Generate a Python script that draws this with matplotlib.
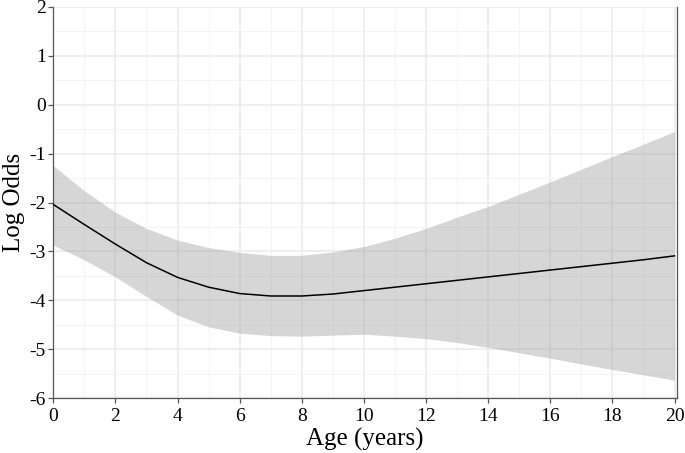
import matplotlib
matplotlib.use("Agg")
import matplotlib.pyplot as plt
import numpy as np

age = [0, 1, 2, 3, 4, 5, 6, 7, 8, 9, 10, 11, 12, 13, 14, 15, 16, 17, 18, 19, 20]
fit = [-2.04, -2.45, -2.85, -3.23, -3.53, -3.73, -3.86, -3.91, -3.91, -3.87, -3.80,
       -3.73, -3.66, -3.59, -3.52, -3.45, -3.38, -3.31, -3.24, -3.17, -3.09]
upper = [-1.25, -1.76, -2.20, -2.53, -2.77, -2.92, -3.02, -3.08, -3.08, -3.01, -2.90,
         -2.73, -2.53, -2.30, -2.08, -1.83, -1.58, -1.32, -1.06, -0.81, -0.55]
lower = [-2.87, -3.17, -3.52, -3.92, -4.30, -4.54, -4.67, -4.72, -4.73, -4.71, -4.69,
         -4.73, -4.78, -4.86, -4.96, -5.07, -5.18, -5.30, -5.41, -5.52, -5.63]

xticks = [0, 2, 4, 6, 8, 10, 12, 14, 16, 18, 20]
yticks = [-6, -5, -4, -3, -2, -1, 0, 1, 2]

plt.rcParams['font.family'] = ['Liberation Serif', 'DejaVu Serif']

fig = plt.figure(figsize=(6.85, 4.53), dpi=100)
ax = fig.add_axes([53.3/685, (453-398.3)/453, (677-53.3)/685, (398.3-6.7)/453])

ax.set_xlim(0, 20.08)
ax.set_ylim(-6, 2)

ax.set_xticks(xticks)
ax.set_yticks(yticks)
ax.set_xticks(np.arange(1, 21, 2), minor=True)
ax.set_yticks(np.arange(-5.5, 2, 1), minor=True)

ax.grid(which='major', color='#ebebeb', linewidth=1.1, zorder=0)
ax.grid(which='minor', color='#f2f2f2', linewidth=0.6, zorder=0)
ax.set_axisbelow(True)

ax.fill_between(age, lower, upper, color='#999999', alpha=0.4, linewidth=0, zorder=2)
ax.plot(age, fit, color='black', linewidth=1.1, zorder=3)

ax.spines['top'].set_visible(False)
for s in ['left', 'bottom', 'right']:
    ax.spines[s].set_color('#555555')
    ax.spines[s].set_linewidth(0.9)

ax.tick_params(which='major', direction='out', length=3.5, width=0.9, color='#555555',
               labelsize=14, labelcolor='black', pad=2)
ax.tick_params(axis='x', which='major', pad=3.5)
ax.tick_params(which='minor', length=0)

ax.set_yticklabels([str(v) for v in yticks])
ax.set_xlabel('Age (years)', fontsize=18, labelpad=2)
ax.set_ylabel('Log Odds', fontsize=18, labelpad=3)

fig.savefig('out.png', dpi=100)
